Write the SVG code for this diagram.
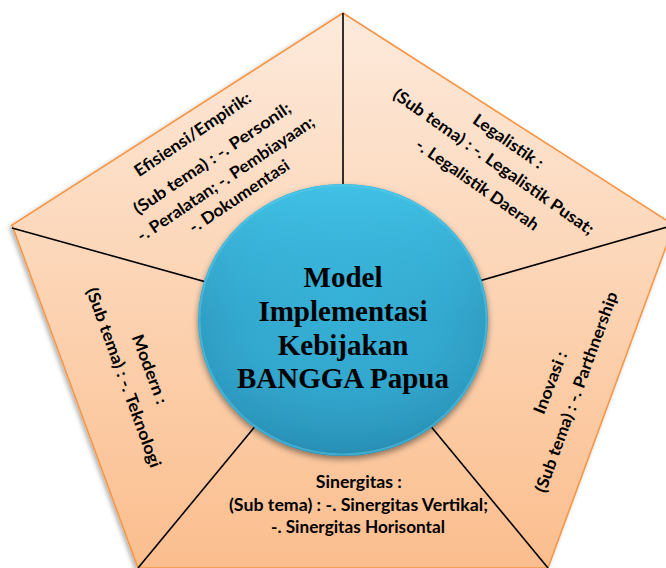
<svg xmlns="http://www.w3.org/2000/svg" width="666" height="568" viewBox="0 0 666 568">
  <defs>
    <linearGradient id="pentFill" x1="0" y1="0" x2="0" y2="1">
      <stop offset="0" stop-color="#FDEADC"/>
      <stop offset="0.5" stop-color="#FCD4B4"/>
      <stop offset="1" stop-color="#FBBE8E"/>
    </linearGradient>
    <radialGradient id="ballFill" cx="0.5" cy="0.42" r="0.6">
      <stop offset="0" stop-color="#36B0D6"/>
      <stop offset="0.6" stop-color="#33A8CF"/>
      <stop offset="0.9" stop-color="#2E9BC1"/>
      <stop offset="1" stop-color="#2A8DB2"/>
    </radialGradient>
    <linearGradient id="ballTop" x1="0" y1="0" x2="0" y2="1">
      <stop offset="0" stop-color="#42C3E7" stop-opacity="0.95"/>
      <stop offset="0.5" stop-color="#3BB5DB" stop-opacity="0"/>
      <stop offset="1" stop-color="#1F7FA5" stop-opacity="0.35"/>
    </linearGradient>
    <filter id="pentShadow" x="-10%" y="-10%" width="120%" height="120%">
      <feDropShadow dx="-2" dy="2" stdDeviation="2" flood-color="#000" flood-opacity="0.3"/>
    </filter>
    <filter id="ballShadow" x="-10%" y="-10%" width="120%" height="125%">
      <feDropShadow dx="0" dy="3" stdDeviation="3" flood-color="#000" flood-opacity="0.45"/>
    </filter>
  </defs>
  <style>
    .lbl { font-family: Lato, "Open Sans", "Liberation Sans", sans-serif; font-weight: bold; font-size: 16.5px; fill: #000; text-anchor: middle; dominant-baseline: central; }
    .lblb { font-family: Lato, "Open Sans", "Liberation Sans", sans-serif; font-weight: bold; font-size: 16.5px; fill: #000; text-anchor: middle; }
    .title { font-family: "Liberation Serif", "Times New Roman", serif; font-weight: bold; font-size: 29px; fill: #000; text-anchor: middle; }
    .spoke { stroke: #000; stroke-width: 1.6; fill: none; }
  </style>

  <g id="pentagon">
    <polygon points="343,13 674,225 548,568 138,568 12,225" fill="url(#pentFill)" stroke="#F79646" stroke-width="1.6" stroke-linejoin="miter" filter="url(#pentShadow)"/>
  </g>

  <g id="connectors">
    <line class="spoke" x1="343" y1="13" x2="343" y2="200"/>
    <line class="spoke" x1="674" y1="225" x2="343" y2="320"/>
    <line class="spoke" x1="548" y1="568" x2="343" y2="320"/>
    <line class="spoke" x1="138" y1="568" x2="343" y2="320"/>
    <line class="spoke" x1="12" y1="228" x2="343" y2="320"/>
  </g>

  <g id="efisiensi">
    <text class="lbl" transform="translate(192.5,134) rotate(-34)" textLength="137" lengthAdjust="spacingAndGlyphs">Efisiensi/Empirik:</text>
    <text class="lbl" transform="translate(212,158) rotate(-34)" textLength="186" lengthAdjust="spacingAndGlyphs">(Sub tema) : -. Personil;</text>
    <text class="lbl" transform="translate(225.5,178.5) rotate(-34)" textLength="210" lengthAdjust="spacingAndGlyphs">-. Peralatan; -. Pembiayaan;</text>
    <text class="lbl" transform="translate(239,196) rotate(-34)" textLength="117" lengthAdjust="spacingAndGlyphs">-. Dokumentasi</text>
  </g>

  <g id="legalistik">
    <text class="lbl" transform="translate(508.5,141) rotate(35)" textLength="82" lengthAdjust="spacingAndGlyphs">Legalistik :</text>
    <text class="lbl" transform="translate(494,161.5) rotate(35)" textLength="241" lengthAdjust="spacingAndGlyphs">(Sub tema) : -. Legalistik Pusat;</text>
    <text class="lbl" transform="translate(477.5,184.5) rotate(35)" textLength="146" lengthAdjust="spacingAndGlyphs">-. Legalistik Daerah</text>
  </g>

  <g id="modern">
    <text class="lbl" transform="translate(150,369) rotate(69.5)" textLength="73" lengthAdjust="spacingAndGlyphs">Modern :</text>
    <text class="lbl" transform="translate(124,377.5) rotate(70)" textLength="190" lengthAdjust="spacingAndGlyphs">(Sub tema) : -. Teknologi</text>
  </g>

  <g id="inovasi">
    <text class="lbl" transform="translate(550,382.5) rotate(-69)" textLength="65.5" lengthAdjust="spacingAndGlyphs">Inovasi :</text>
    <text class="lbl" transform="translate(576,392) rotate(-70)" textLength="212" lengthAdjust="spacingAndGlyphs">(Sub tema) : -. Parthnership</text>
  </g>

  <g id="sinergitas">
    <text class="lblb" x="358.8" y="487.5" textLength="86" lengthAdjust="spacingAndGlyphs">Sinergitas :</text>
    <text class="lblb" x="358.5" y="511" textLength="259" lengthAdjust="spacingAndGlyphs">(Sub tema) : -. Sinergitas Vertikal;</text>
    <text class="lblb" x="358" y="532.5" textLength="174" lengthAdjust="spacingAndGlyphs">-. Sinergitas Horisontal</text>
  </g>

  <g id="center">
    <ellipse cx="343" cy="320" rx="145" ry="136" fill="url(#ballFill)" filter="url(#ballShadow)"/>
    <ellipse cx="343" cy="320" rx="145" ry="136" fill="url(#ballTop)"/>
    <ellipse cx="343" cy="320" rx="143.5" ry="134.5" fill="none" stroke="#5CCBEA" stroke-opacity="0.5" stroke-width="2"/>
    <text class="title" x="343" y="287">Model</text>
    <text class="title" x="343" y="320.5">Implementasi</text>
    <text class="title" x="343" y="355">Kebijakan</text>
    <text class="title" x="343" y="387.5">BANGGA Papua</text>
  </g>
</svg>
